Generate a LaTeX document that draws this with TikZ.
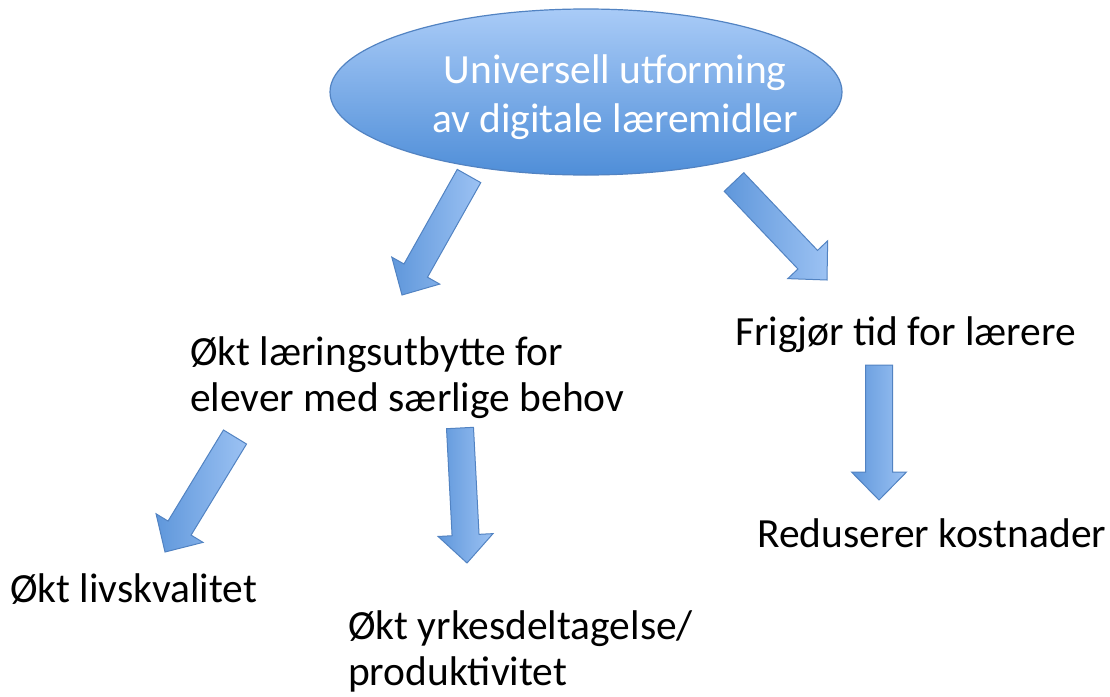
\documentclass[tikz,border=0pt]{standalone}
\usepackage{fontspec}
\setmainfont{Carlito}
\usetikzlibrary{calc,shapes.geometric,positioning}

\definecolor{ovaltop}{HTML}{A9CBF7}
\definecolor{ovalbot}{HTML}{4F8ED8}
\definecolor{ovalline}{HTML}{5283C2}
\definecolor{pildark}{HTML}{5F97DB}
\definecolor{pillight}{HTML}{9CC2F3}

\tikzset{
  oval/.style={ellipse, draw=ovalline, line width=1.2pt, top color=ovaltop, bottom color=ovalbot,
    minimum width=512pt, minimum height=166pt, inner sep=0pt},
  tekst/.style={font=\fontsize{41.5}{46}\selectfont, align=left, inner sep=0pt, anchor=base west},
  pil/.style={draw=ovalline, line width=1pt, left color=pildark, right color=pillight, line join=miter}
}

% block arrow from #1 to #2
\newcommand{\blokkpil}[2]{%
  \path[pil] ($(#1)!13.5pt!90:(#2)$)
    -- ($(#2)!28pt!(#1)!13.5pt!90:(#2)$)
    -- ($(#2)!28pt!(#1)!27.5pt!90:(#2)$)
    -- (#2)
    -- ($(#2)!28pt!(#1)!27.5pt!-90:(#2)$)
    -- ($(#2)!28pt!(#1)!13.5pt!-90:(#2)$)
    -- ($(#1)!13.5pt!-90:(#2)$) -- cycle;}

\begin{document}
\begin{tikzpicture}[x=1pt,y=-1pt]
  \useasboundingbox (0,0) rectangle (1110,696);

  \node[oval] (topp) at (586,92) {};
  \node[font=\fontsize{41.5}{49}\selectfont, text=white, align=center, inner sep=0pt]
    (toppnavn) at (615,97) {Universell utforming\\av digitale læremidler};

  % multi-line nodes: base is the last line
  \node[tekst] (laering) at (190,411) {Økt læringsutbytte for\\elever med særlige behov};
  \node[tekst] (frigjor) at (735,345) {Frigjør tid for lærere};
  \node[tekst] (reduserer) at (757,547) {Reduserer kostnader};
  \node[tekst] (livskvalitet) at (10,602) {Økt livskvalitet};
  \node[tekst] (yrke) at (348,685) {Økt yrkesdeltagelse/\\produktivitet};

  % pilene
  \coordinate (p1a) at (469,176);  \coordinate (p1b) at (402,295);
  \coordinate (p2a) at (734,182);  \coordinate (p2b) at (827,280);
  \coordinate (p3a) at (235,437);  \coordinate (p3b) at (165,552);
  \coordinate (p4a) at (460,428);  \coordinate (p4b) at (467,563);
  \coordinate (p5a) at (879,365);  \coordinate (p5b) at (879,500);

  \blokkpil{p1a}{p1b}
  \blokkpil{p2a}{p2b}
  \blokkpil{p3a}{p3b}
  \blokkpil{p4a}{p4b}
  \blokkpil{p5a}{p5b}
\end{tikzpicture}
\end{document}
